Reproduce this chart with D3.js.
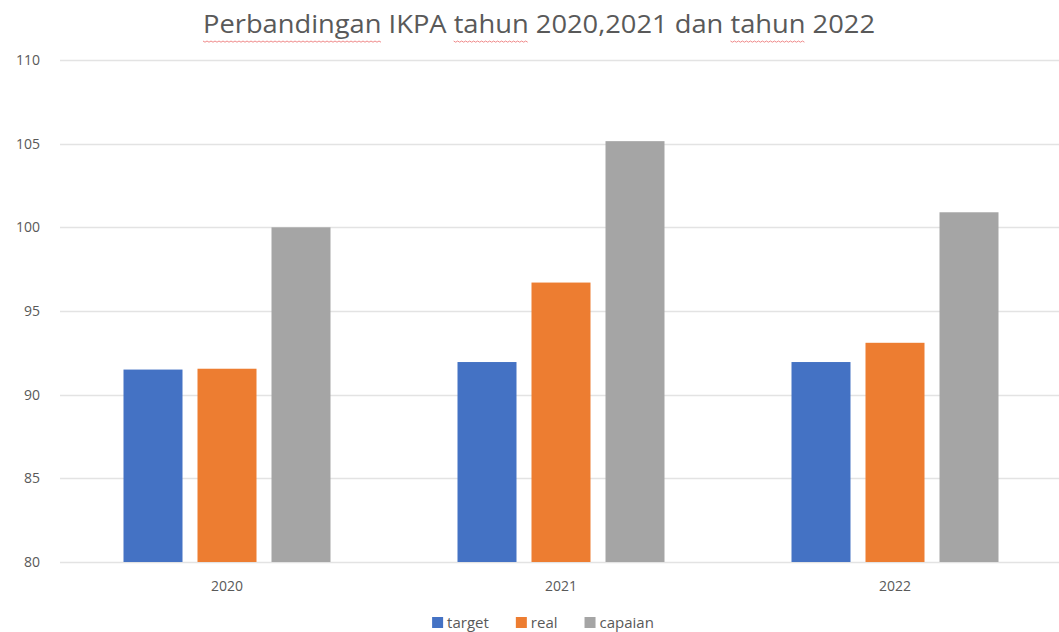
<!DOCTYPE html>
<html>
<head>
<meta charset="utf-8">
<script src="https://cdn.jsdelivr.net/npm/d3@7"></script>
<style>
  html, body { margin: 0; padding: 0; background: #fff; }
  svg { display: block; }
</style>
</head>
<body>
<svg id="chart" width="1059" height="632"></svg>
<script>
// ---------------------------------------------------------------
// data
// ---------------------------------------------------------------
const years = ["2020", "2021", "2022"];
const seriesNames = ["target", "real", "capaian"];
const target = [91.5, 91.95, 91.95];
const real = [91.55, 96.7, 93.1];
const capaian = [100.0, 105.15, 100.9];
const yTicks = [80, 85, 90, 95, 100, 105, 110];
const colors = ["#4472c4", "#ed7d31", "#a5a5a5"];
const titleText = "Perbandingan IKPA tahun 2020,2021 dan tahun 2022";

const rows = years.map((y, i) => ({
  year: y,
  values: [target[i], real[i], capaian[i]]
}));

// ---------------------------------------------------------------
// layout
// ---------------------------------------------------------------
const svg = d3.select("#chart");
const margin = { top: 60, left: 60, right: -3, bottom: 70 };
const W = 1059, H = 632;
const plotBottom = 562;

const x = d3.scaleBand()
  .domain(years)
  .range([margin.left, W - margin.right])
  .paddingInner(0)
  .paddingOuter(0);

const y = d3.scaleLinear()
  .domain([80, 110])
  .range([plotBottom, margin.top]);

const barW = 59, barGap = 15;
const inner = d3.scaleBand()
  .domain(seriesNames)
  .range([-(3 * barW + 2 * barGap) / 2, (3 * barW + 2 * barGap) / 2])
  .paddingInner(barGap / (barW + barGap))
  .paddingOuter(0);

const font = "'Open Sans', 'Liberation Sans', sans-serif";

// gridlines
svg.append("g")
  .selectAll("line")
  .data(yTicks)
  .join("line")
  .attr("x1", margin.left)
  .attr("x2", W)
  .attr("y1", d => Math.round(y(d)) + 0.5)
  .attr("y2", d => Math.round(y(d)) + 0.5)
  .attr("stroke", "#e3e3e3")
  .attr("stroke-width", 1.3);

// y axis labels
svg.append("g")
  .selectAll("text")
  .data(yTicks)
  .join("text")
  .attr("x", 40)
  .attr("y", d => y(d) + 5)
  .attr("text-anchor", "end")
  .attr("fill", "#595959")
  .attr("font-family", font)
  .attr("font-size", 14)
  .text(d => d);

// bars
const groups = svg.append("g")
  .selectAll("g")
  .data(rows)
  .join("g")
  .attr("transform", d => `translate(${x(d.year) + x.bandwidth() / 2},0)`);

groups.selectAll("rect")
  .data(d => d.values.map((v, i) => ({ name: seriesNames[i], value: v, i })))
  .join("rect")
  .attr("x", d => inner(d.name))
  .attr("width", inner.bandwidth())
  .attr("y", d => y(d.value))
  .attr("height", d => plotBottom - y(d.value))
  .attr("fill", d => colors[d.i]);

// x labels
svg.append("g")
  .selectAll("text")
  .data(years)
  .join("text")
  .attr("x", d => x(d) + x.bandwidth() / 2)
  .attr("y", 591)
  .attr("text-anchor", "middle")
  .attr("fill", "#595959")
  .attr("font-family", font)
  .attr("font-size", 14)
  .text(d => d);

// title
const title = svg.append("text")
  .attr("x", 539)
  .attr("y", 33)
  .attr("text-anchor", "middle")
  .attr("fill", "#595959")
  .attr("font-family", "'Open Sans', sans-serif")
  .attr("font-size", 26)
  .attr("textLength", 672)
  .attr("lengthAdjust", "spacingAndGlyphs")
  .text(titleText);

// spell-check squiggles under some words
const tNode = title.node();
const bbox = tNode.getBBox();
const words = [["Perbandingan", 0], ["tahun", titleText.indexOf("tahun")], ["tahun", titleText.lastIndexOf("tahun")]];
words.forEach(([w, idx]) => {
  const x0 = bbox.x + tNode.getSubStringLength(0, idx);
  const wl = tNode.getSubStringLength(idx, w.length);
  const pts = [];
  for (let px = 0; px <= wl; px += 2) pts.push([x0 + px, 41 + ((px / 2) % 2 ? 1.2 : 0)]);
  svg.append("path")
    .attr("d", d3.line()(pts))
    .attr("fill", "none")
    .attr("stroke", "#f08a8a")
    .attr("stroke-width", 1);
});

// legend
const legendItems = seriesNames.map((n, i) => ({ name: n, color: colors[i] }));
const legend = svg.append("g").attr("transform", "translate(0,628)");
let lx = 0;
const lg = legend.selectAll("g")
  .data(legendItems)
  .join("g");
lg.append("rect")
  .attr("width", 11)
  .attr("height", 11)
  .attr("y", -11)
  .attr("fill", d => d.color);
lg.append("text")
  .attr("x", 15)
  .attr("y", 0)
  .attr("fill", "#595959")
  .attr("font-family", font)
  .attr("font-size", 15)
  .text(d => d.name);
// place items side by side, centred
const widths = [];
lg.each(function () { widths.push(this.getBBox().width); });
const gap = 27;
const total = d3.sum(widths) + gap * (widths.length - 1);
lx = 543 - total / 2;
lg.attr("transform", (d, i) => {
  const t = `translate(${lx},0)`;
  lx += widths[i] + gap;
  return t;
});
</script>
</body>
</html>
